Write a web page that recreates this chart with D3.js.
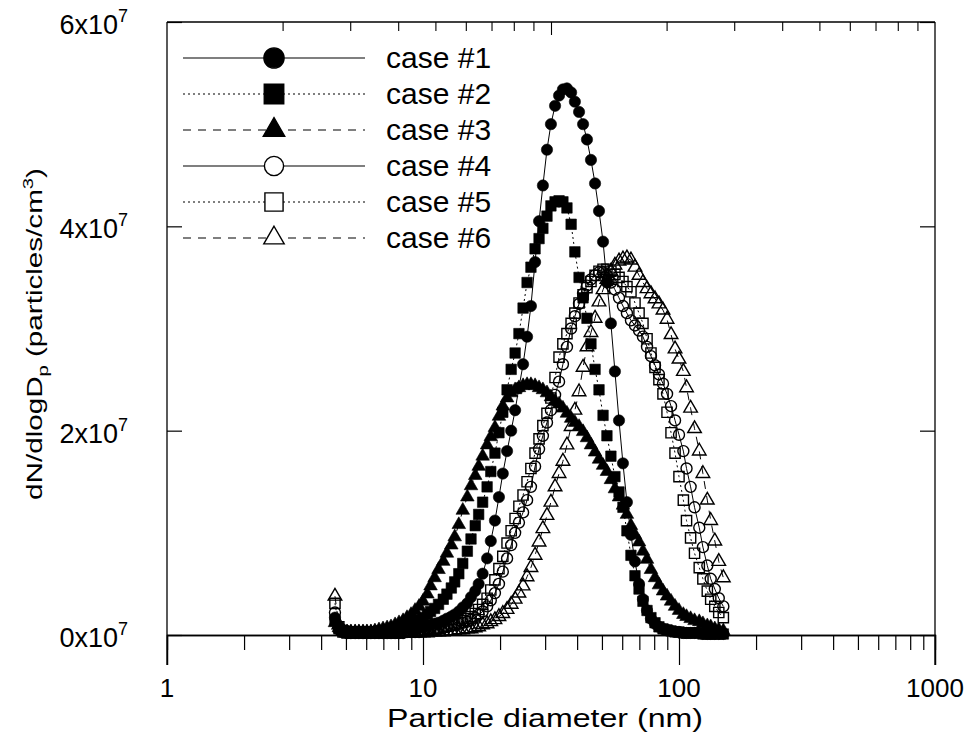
<!DOCTYPE html>
<html><head><meta charset="utf-8">
<script src="https://cdn.jsdelivr.net/npm/d3@7"></script>
<style>
body{margin:0;background:#fff}
svg{display:block}
text{font-family:Arial,"Liberation Sans",Helvetica,sans-serif;fill:#000}
</style>
</head><body>
<svg id="chart" width="974" height="735"></svg>
<script>
// Particle diameter channels (nm)
const diameters=[
4.53,4.69,4.87,5.05,5.23,5.43,5.62,5.83,6.04,6.26,
6.49,6.73,6.98,7.24,7.50,7.78,8.06,8.36,8.66,8.98,
9.31,9.65,10.0,10.4,10.7,11.1,11.5,12.0,12.4,12.9,
13.3,13.8,14.3,14.9,15.4,16.0,16.5,17.1,17.8,18.4,
19.1,19.8,20.5,21.3,22.1,22.9,23.7,24.6,25.5,26.4,
27.4,28.4,29.4,30.5,31.6,32.8,34.0,35.2,36.5,37.9,
39.2,40.7,42.2,43.7,45.3,47.0,48.7,50.5,52.3,54.2,
56.2,58.3,60.4,62.6,64.9,67.3,69.8,72.3,75.0,77.7,
80.6,83.5,86.6,89.8,93.1,96.5,100,104,107,111,
115,120,124,129,133,138,143,149];

// dN/dlogDp values in units of 10^7 particles/cm^3
const case1=[
0.17,0.08,0.05,0.04,0.03,0.03,0.03,0.03,0.03,0.03,
0.03,0.03,0.03,0.04,0.04,0.04,0.05,0.05,0.06,0.06,
0.06,0.07,0.08,0.09,0.10,0.11,0.12,0.14,0.16,0.18,
0.20,0.23,0.27,0.31,0.37,0.43,0.50,0.60,0.75,0.92,
1.12,1.35,1.58,1.80,2.00,2.20,2.42,2.65,2.92,3.22,
3.65,4.05,4.40,4.75,5.00,5.18,5.28,5.34,5.35,5.31,
5.22,5.12,5.00,4.85,4.65,4.42,4.15,3.85,3.45,3.05,
2.58,2.10,1.68,1.30,0.98,0.72,0.50,0.35,0.24,0.16,
0.11,0.08,0.06,0.05,0.04,0.03,0.03,0.02,0.02,0.02,
0.02,0.02,0.01,0.01,0.01,0.01,0.01,0.01];
const case2=[
0.14,0.06,0.04,0.03,0.03,0.03,0.03,0.03,0.03,0.03,
0.03,0.04,0.04,0.05,0.05,0.06,0.07,0.08,0.09,0.11,
0.13,0.15,0.17,0.20,0.23,0.26,0.30,0.35,0.40,0.46,
0.52,0.60,0.70,0.82,0.94,1.07,1.18,1.30,1.45,1.60,
1.78,1.98,2.18,2.40,2.60,2.76,2.95,3.20,3.45,3.60,
3.78,3.88,3.98,4.10,4.20,4.24,4.25,4.24,4.18,4.02,
3.75,3.50,3.30,3.10,2.85,2.60,2.40,2.15,1.95,1.75,
1.55,1.40,1.25,1.02,0.78,0.58,0.45,0.33,0.24,0.17,
0.12,0.08,0.06,0.05,0.04,0.03,0.03,0.02,0.02,0.02,
0.02,0.02,0.01,0.01,0.01,0.01,0.01,0.01];
const case3=[
0.12,0.07,0.04,0.03,0.03,0.03,0.03,0.03,0.03,0.03,
0.04,0.05,0.06,0.07,0.08,0.10,0.12,0.14,0.17,0.20,
0.24,0.28,0.33,0.40,0.48,0.56,0.64,0.72,0.80,0.88,
0.96,1.08,1.22,1.35,1.46,1.56,1.65,1.75,1.86,1.94,
2.03,2.14,2.24,2.32,2.37,2.40,2.42,2.44,2.45,2.45,
2.44,2.42,2.40,2.37,2.33,2.29,2.26,2.22,2.17,2.12,
2.08,2.04,1.99,1.93,1.86,1.79,1.72,1.66,1.60,1.52,
1.43,1.35,1.27,1.18,1.07,0.98,0.91,0.82,0.74,0.64,
0.56,0.49,0.43,0.38,0.33,0.28,0.24,0.20,0.18,0.16,
0.14,0.13,0.11,0.09,0.08,0.06,0.05,0.04];
const case4=[
0.22,0.07,0.03,0.02,0.02,0.02,0.02,0.02,0.02,0.02,
0.02,0.02,0.02,0.02,0.02,0.02,0.02,0.02,0.03,0.03,
0.03,0.03,0.04,0.04,0.05,0.05,0.06,0.07,0.08,0.09,
0.10,0.11,0.12,0.13,0.15,0.17,0.20,0.23,0.28,0.34,
0.41,0.50,0.62,0.75,0.88,1.00,1.10,1.20,1.32,1.45,
1.65,1.82,1.95,2.08,2.20,2.35,2.48,2.65,2.82,3.00,
3.12,3.24,3.34,3.42,3.48,3.52,3.55,3.55,3.52,3.45,
3.38,3.30,3.22,3.15,3.08,3.03,2.98,2.92,2.82,2.73,
2.64,2.55,2.46,2.36,2.24,2.10,1.96,1.80,1.63,1.45,
1.25,1.05,0.86,0.68,0.55,0.45,0.36,0.28];
const case5=[
0.31,0.08,0.03,0.02,0.02,0.02,0.02,0.02,0.02,0.02,
0.02,0.02,0.02,0.02,0.02,0.02,0.02,0.03,0.03,0.03,
0.03,0.04,0.04,0.05,0.05,0.06,0.07,0.08,0.09,0.10,
0.11,0.12,0.14,0.16,0.18,0.21,0.25,0.30,0.36,0.44,
0.54,0.65,0.77,0.90,1.02,1.14,1.26,1.37,1.50,1.63,
1.78,1.92,2.05,2.17,2.32,2.52,2.72,2.85,2.95,3.05,
3.15,3.25,3.33,3.40,3.46,3.52,3.56,3.58,3.58,3.56,
3.53,3.50,3.46,3.41,3.36,3.25,3.15,3.05,2.90,2.76,
2.62,2.50,2.36,2.18,1.98,1.78,1.55,1.32,1.12,0.95,
0.80,0.66,0.55,0.43,0.35,0.28,0.22,0.17];
const case6=[
0.38,0.10,0.04,0.02,0.02,0.02,0.02,0.02,0.02,0.02,
0.02,0.02,0.02,0.02,0.02,0.02,0.02,0.02,0.02,0.02,
0.02,0.02,0.02,0.02,0.03,0.03,0.03,0.03,0.04,0.04,
0.04,0.05,0.05,0.06,0.06,0.07,0.08,0.10,0.11,0.13,
0.15,0.18,0.21,0.25,0.30,0.35,0.41,0.48,0.57,0.66,
0.78,0.91,1.04,1.17,1.30,1.45,1.58,1.70,1.86,2.04,
2.20,2.38,2.62,2.82,2.96,3.10,3.26,3.38,3.48,3.56,
3.62,3.66,3.68,3.69,3.67,3.60,3.52,3.45,3.39,3.34,
3.29,3.24,3.18,3.09,2.94,2.80,2.70,2.58,2.42,2.22,
2.02,1.80,1.58,1.32,1.12,0.92,0.72,0.56];

const seriesNames=["case #1","case #2","case #3","case #4","case #5","case #6"];
const seriesValues=[case1,case2,case3,case4,case5,case6];
const xMajorTicks=[1,10,100,1000];
const yTickValues=[0,2,4,6];
const topTickValues=[2,3,4,5,6,7,8,9,10,20,30,40,50,60,70,80,90];
const xTitle="Particle diameter (nm)";

// ---- styles (not data) ----
const markerTypes=[d3.symbolCircle,d3.symbolSquare,d3.symbolTriangle,d3.symbolCircle,d3.symbolSquare,d3.symbolTriangle];
const markerFilled=[true,true,true,false,false,false];
const dashes=[null,"2,3","8,7",null,"2,3","8,7"];
const plotSizes=[100,110,80,95,105,80];
const legendSizes=[320,380,200,290,330,180];

const svg=d3.select("#chart");
const L=167,R=935,T=22,B=635,AXB=665;
const x=d3.scaleLog().domain([1,1000]).range([L,R]);
const xTop=d3.scaleLog().domain([1,100]).range([L,R]);
const y=d3.scaleLinear().domain([0,6]).range([B,T]);

const g=svg.append("g");
// frame lines
g.append("line").attr("x1",L).attr("x2",R).attr("y1",T).attr("y2",T).attr("stroke","#000").attr("stroke-width",1.3);
g.append("line").attr("x1",L).attr("x2",L).attr("y1",T).attr("y2",AXB).attr("stroke","#000").attr("stroke-width",1.3);
g.append("line").attr("x1",R).attr("x2",R).attr("y1",T).attr("y2",AXB).attr("stroke","#000").attr("stroke-width",1.3);

// bottom x axis (at y=0)
const minor=[];
for(let dec=1;dec<1000;dec*=10){for(let m=2;m<=9;m++)minor.push(m*dec);}
const axMajor=d3.axisBottom(x).tickValues(xMajorTicks).tickSize(AXB-B).tickFormat("");
const axMinor=d3.axisBottom(x).tickValues(minor).tickSize(15).tickFormat("");
const gx=g.append("g").attr("transform",`translate(0,${B})`).call(axMajor);
const gx2=g.append("g").attr("transform",`translate(0,${B})`).call(axMinor);
[gx,gx2].forEach(a=>{a.select(".domain").attr("stroke","#000").attr("stroke-width",1.3);a.selectAll(".tick line").attr("stroke","#000").attr("stroke-width",1.2);});
// top inward ticks (secondary log axis)
const gt=g.append("g").attr("transform",`translate(0,${T})`).call(d3.axisBottom(xTop).tickValues(topTickValues).tickSize(9).tickFormat(""));
gt.select(".domain").remove();
gt.selectAll(".tick line").attr("stroke","#000").attr("stroke-width",1.1).attr("y2",d=>d===10?13:9);

// x tick labels
g.selectAll(".xl").data(xMajorTicks).join("text").attr("class","xl")
 .attr("x",d=>x(d)).attr("y",697).attr("text-anchor","middle").attr("font-size",26).text(d=>d);
g.append("text").attr("x",545).attr("y",727).attr("text-anchor","middle").attr("font-size",26)
 .attr("textLength",316).attr("lengthAdjust","spacingAndGlyphs").text(xTitle);

// y axis ticks
const gy=g.append("g").attr("transform",`translate(${L},0)`).call(d3.axisRight(y).tickValues(yTickValues).tickSize(15).tickFormat(""));
gy.select(".domain").remove();
gy.selectAll(".tick line").attr("stroke","#000").attr("stroke-width",1.2);
const gyr=g.append("g").attr("transform",`translate(${R},0)`).call(d3.axisLeft(y).tickValues(yTickValues).tickSize(15).tickFormat(""));
gyr.select(".domain").remove();
gyr.selectAll(".tick line").attr("stroke","#000").attr("stroke-width",1.2);

// y tick labels
const yl=g.selectAll(".yl").data(yTickValues).join("text").attr("class","yl")
 .attr("x",128).attr("y",d=>y(d)+12).attr("text-anchor","end").attr("font-size",27);
yl.append("tspan").text(d=>d+"x10");
yl.append("tspan").attr("dy",-12).attr("font-size",18).text("7");

// y title (scaled to the reference length)
const ytG=g.append("g");
const yt=ytG.append("text").attr("text-anchor","middle").attr("font-size",22);
yt.append("tspan").text("dN/dlogD");
yt.append("tspan").attr("dy",6).attr("font-size",15).text("p");
yt.append("tspan").attr("dy",-6).text(" (particles/cm");
yt.append("tspan").attr("dy",-9).attr("font-size",15).text("3");
yt.append("tspan").attr("dy",9).text(")");
const natLen=yt.node().getComputedTextLength();
const sx=332/natLen;
ytG.attr("transform",`translate(42,334) rotate(-90) scale(${sx},1)`);

// series
const line=d3.line().x((d,i)=>x(diameters[i])).y(d=>y(d));
seriesValues.forEach((vals,s)=>{
  const sg=g.append("g");
  sg.append("path").datum(vals).attr("d",line).attr("fill","none").attr("stroke","#000").attr("stroke-width",1)
    .attr("stroke-dasharray",dashes[s]);
  const sym=d3.symbol().type(markerTypes[s]).size(plotSizes[s]);
  sg.selectAll("path.m").data(vals).join("path").attr("class","m")
    .attr("transform",(d,i)=>`translate(${x(diameters[i])},${y(d)})`)
    .attr("d",sym)
    .attr("fill",markerFilled[s]?"#000":"none")
    .attr("stroke","#000").attr("stroke-width",markerFilled[s]?0.6:1.4);
});

// legend
const legRows=[58,94,130,166,202,238];
seriesNames.forEach((name,s)=>{
  const ly=legRows[s];
  g.append("line").attr("x1",183).attr("x2",365).attr("y1",ly).attr("y2",ly).attr("stroke","#000").attr("stroke-width",1.2).attr("stroke-dasharray",dashes[s]);
  g.append("path").attr("transform",`translate(274,${ly})`).attr("d",d3.symbol().type(markerTypes[s]).size(legendSizes[s]))
    .attr("fill",markerFilled[s]?"#000":"#fff").attr("stroke","#000").attr("stroke-width",1.4);
  g.append("text").attr("x",386).attr("y",ly+10).attr("font-size",30).text(name);
});
</script>
</body></html>
